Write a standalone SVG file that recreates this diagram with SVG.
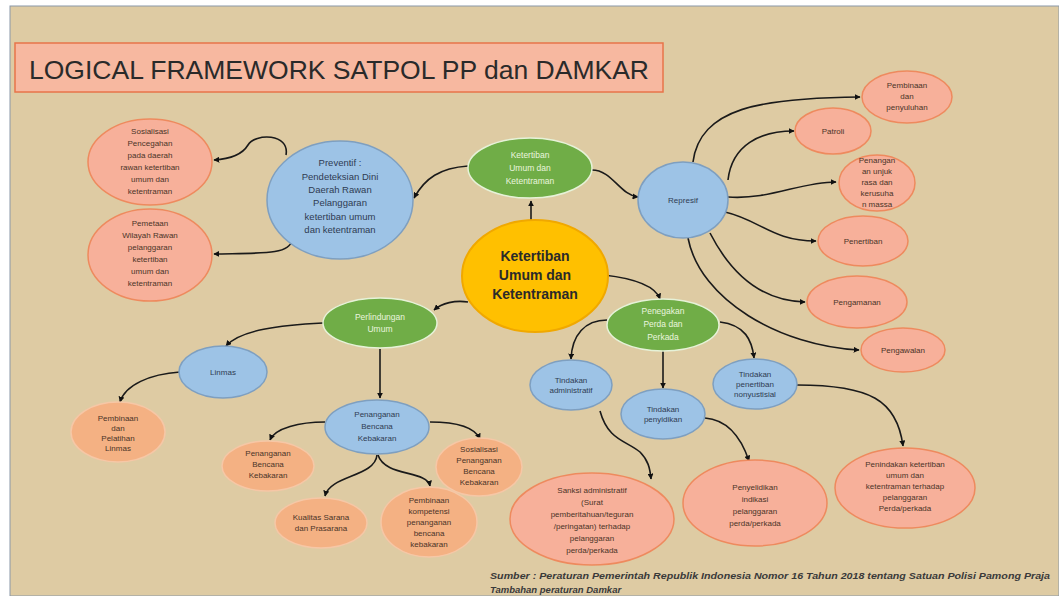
<svg xmlns="http://www.w3.org/2000/svg" width="1059" height="596" viewBox="0 0 1059 596">
<defs>
<marker id="ah" viewBox="0 0 10 10" refX="9" refY="5" markerWidth="6" markerHeight="6" orient="auto" markerUnits="userSpaceOnUse">
<path d="M0,0 L10,5 L0,10 z" fill="#111"/>
</marker>
</defs>
<style>
text{font-family:"Liberation Sans",Arial,sans-serif;text-anchor:middle}
.c path{fill:none;stroke:#1a1a1a;stroke-width:1.6;marker-end:url(#ah)}
.or{fill:#F7B09A;stroke:#EE8A5E;stroke-width:1.5}
.pe{fill:#F4B183;stroke:#F6C7A6;stroke-width:1.5}
.bl{fill:#9DC3E6;stroke:#7E9FC0;stroke-width:1.5}
.gr{fill:#70AD47;stroke:#E6F2D8;stroke-width:1.5}
.t{font-size:8px;fill:#4a3428}
.tb{font-size:8px;fill:#2f3b52}
.tg{font-size:8.5px;fill:#EAF5DF}
</style>
<rect x="0" y="0" width="1059" height="596" fill="#ffffff"/>
<rect x="10" y="6" width="1049" height="590" fill="#DECBA3" stroke="#8A98A8" stroke-width="1"/>
<g id="title">
<rect x="15" y="43" width="648" height="49" fill="#F7B8A0" stroke="#E8744A" stroke-width="1.5"/>
<text x="339" y="79" style="font-size:26px;fill:#2a2a2a" textLength="620" lengthAdjust="spacingAndGlyphs">LOGICAL FRAMEWORK SATPOL PP dan DAMKAR</text>
</g>
<g class="c" id="connectors">
<path d="M531,222 L531,201"/>
<path d="M468,166 C440,168 425,178 414,198"/>
<path d="M592,170 C612,170 620,195 638,197"/>
<path d="M286,155 C290,133 255,133 248,145 C242,155 230,159 214,160"/>
<path d="M292,240 C290,255 260,253 214,254"/>
<path d="M693,162 C700,108 760,98 860,97"/>
<path d="M728,180 C732,145 760,131 794,131"/>
<path d="M728,197 C770,200 800,182 836,182"/>
<path d="M725,212 C760,220 772,241 816,241"/>
<path d="M710,233 C730,272 760,301 805,302"/>
<path d="M688,238 C700,300 780,346 859,350"/>
<path d="M468,302 C455,300 442,303 434,310"/>
<path d="M604,275 C630,278 655,285 660,299"/>
<path d="M323,323 C280,325 240,330 226,346"/>
<path d="M380,349 L380,398"/>
<path d="M180,372 C150,374 125,385 120,402"/>
<path d="M325,422 C300,422 275,428 270,440"/>
<path d="M377,455 C375,477 330,475 325,496"/>
<path d="M378,455 C385,477 427,470 430,486"/>
<path d="M430,422 C460,422 475,428 480,439"/>
<path d="M607,320 C585,320 572,335 571,359"/>
<path d="M663,351 L663,388"/>
<path d="M720,322 C745,325 752,340 754,358"/>
<path d="M600,411 C608,440 625,440 640,452 C648,460 650,468 651,479"/>
<path d="M705,418 C730,420 742,440 749,461"/>
<path d="M797,385 C870,385 897,400 903,446"/>
</g>
<g id="n-central">
<ellipse cx="535" cy="276" rx="73" ry="56" fill="#FFC000" stroke="#F0A800" stroke-width="2"/>
<text x="535" y="261" style="font-size:14px;font-weight:bold;fill:#2a2a2a">Ketertiban</text>
<text x="535" y="280" style="font-size:14px;font-weight:bold;fill:#2a2a2a">Umum dan</text>
<text x="535" y="299" style="font-size:14px;font-weight:bold;fill:#2a2a2a">Ketentraman</text>
</g>
<g id="n-ketertiban">
<ellipse class="gr" cx="530" cy="168" rx="62" ry="30"/>
<text class="tg" x="530" y="158">Ketertiban</text>
<text class="tg" x="530" y="171">Umum dan</text>
<text class="tg" x="530" y="184">Ketentraman</text>
</g>
<g id="n-preventif">
<ellipse class="bl" cx="340" cy="200" rx="73" ry="59"/>
<text class="tb" style="font-size:9.5px" x="340" y="166">Preventif :</text>
<text class="tb" style="font-size:9.5px" x="340" y="180">Pendeteksian Dini</text>
<text class="tb" style="font-size:9.5px" x="340" y="193">Daerah Rawan</text>
<text class="tb" style="font-size:9.5px" x="340" y="206">Pelanggaran</text>
<text class="tb" style="font-size:9.5px" x="340" y="220">ketertiban umum</text>
<text class="tb" style="font-size:9.5px" x="340" y="233">dan ketentraman</text>
</g>
<g id="n-sosialisasi">
<ellipse class="or" cx="150" cy="162" rx="62" ry="43"/>
<text class="t" x="150" y="134">Sosialisasi</text>
<text class="t" x="150" y="146">Pencegahan</text>
<text class="t" x="150" y="158">pada daerah</text>
<text class="t" x="150" y="170">rawan ketertiban</text>
<text class="t" x="150" y="182">umum dan</text>
<text class="t" x="150" y="194">ketentraman</text>
</g>
<g id="n-pemetaan">
<ellipse class="or" cx="150" cy="255" rx="62" ry="46"/>
<text class="t" x="150" y="226">Pemetaan</text>
<text class="t" x="150" y="238">Wilayah Rawan</text>
<text class="t" x="150" y="250">pelanggaran</text>
<text class="t" x="150" y="262">ketertiban</text>
<text class="t" x="150" y="274">umum dan</text>
<text class="t" x="150" y="286">ketentraman</text>
</g>
<g id="n-represif">
<ellipse class="bl" cx="683" cy="200" rx="45" ry="38"/>
<text class="tb" x="683" y="203">Represif</text>
</g>
<g id="n-pembinaan-penyuluhan">
<ellipse class="or" cx="907" cy="97" rx="45" ry="26"/>
<text class="t" x="907" y="88">Pembinaan</text>
<text class="t" x="907" y="99">dan</text>
<text class="t" x="907" y="110">penyuluhan</text>
</g>
<g id="n-patroli">
<ellipse class="or" cx="833" cy="131" rx="38" ry="23"/>
<text class="t" x="833" y="134">Patroli</text>
</g>
<g id="n-unjukrasa">
<ellipse class="or" cx="877" cy="183" rx="38" ry="28"/>
<text class="t" x="877" y="163">Penangan</text>
<text class="t" x="877" y="174">an unjuk</text>
<text class="t" x="877" y="185">rasa dan</text>
<text class="t" x="877" y="196">kerusuha</text>
<text class="t" x="877" y="207">n massa</text>
</g>
<g id="n-penertiban">
<ellipse class="or" cx="863" cy="241" rx="45" ry="25"/>
<text class="t" x="863" y="244">Penertiban</text>
</g>
<g id="n-pengamanan">
<ellipse class="or" cx="857" cy="302" rx="50" ry="26"/>
<text class="t" x="857" y="305">Pengamanan</text>
</g>
<g id="n-pengawalan">
<ellipse class="or" cx="903" cy="350" rx="42" ry="22"/>
<text class="t" x="903" y="353">Pengawalan</text>
</g>
<g id="n-perlindungan">
<ellipse class="gr" cx="380" cy="323" rx="57" ry="25"/>
<text class="tg" x="380" y="320">Perlindungan</text>
<text class="tg" x="380" y="332">Umum</text>
</g>
<g id="n-linmas">
<ellipse class="bl" cx="223" cy="372" rx="44" ry="26"/>
<text class="tb" x="223" y="375">Linmas</text>
</g>
<g id="n-pelatihan">
<ellipse class="pe" cx="118" cy="432" rx="47" ry="30"/>
<text class="t" x="118" y="421">Pembinaan</text>
<text class="t" x="118" y="431">dan</text>
<text class="t" x="118" y="441">Pelatihan</text>
<text class="t" x="118" y="451">Linmas</text>
</g>
<g id="n-bencana">
<ellipse class="bl" cx="377" cy="427" rx="52" ry="27"/>
<text class="tb" x="377" y="417">Penanganan</text>
<text class="tb" x="377" y="429">Bencana</text>
<text class="tb" x="377" y="441">Kebakaran</text>
</g>
<g id="n-bencana2">
<ellipse class="pe" cx="268" cy="466" rx="46" ry="25"/>
<text class="t" x="268" y="456">Penanganan</text>
<text class="t" x="268" y="467">Bencana</text>
<text class="t" x="268" y="478">Kebakaran</text>
</g>
<g id="n-kualitas">
<ellipse class="pe" cx="321" cy="523" rx="46" ry="25"/>
<text class="t" x="321" y="520">Kualitas Sarana</text>
<text class="t" x="321" y="531">dan Prasarana</text>
</g>
<g id="n-kompetensi">
<ellipse class="pe" cx="429" cy="522" rx="48" ry="35"/>
<text class="t" x="429" y="503">Pembinaan</text>
<text class="t" x="429" y="514">kompetensi</text>
<text class="t" x="429" y="525">penanganan</text>
<text class="t" x="429" y="536">bencana</text>
<text class="t" x="429" y="547">kebakaran</text>
</g>
<g id="n-sosbencana">
<ellipse class="pe" cx="479" cy="467" rx="43" ry="29"/>
<text class="t" x="479" y="452">Sosialisasi</text>
<text class="t" x="479" y="463">Penanganan</text>
<text class="t" x="479" y="474">Bencana</text>
<text class="t" x="479" y="485">Kebakaran</text>
</g>
<g id="n-penegakan">
<ellipse class="gr" cx="663" cy="325" rx="56" ry="26"/>
<text class="tg" x="663" y="314">Penegakan</text>
<text class="tg" x="663" y="327">Perda dan</text>
<text class="tg" x="663" y="340">Perkada</text>
</g>
<g id="n-administratif">
<ellipse class="bl" cx="571" cy="385" rx="41" ry="25"/>
<text class="tb" x="571" y="383">Tindakan</text>
<text class="tb" x="571" y="393">administratif</text>
</g>
<g id="n-penyidikan">
<ellipse class="bl" cx="663" cy="414" rx="42" ry="25"/>
<text class="tb" x="663" y="412">Tindakan</text>
<text class="tb" x="663" y="422">penyidikan</text>
</g>
<g id="n-nonyustisial">
<ellipse class="bl" cx="755" cy="384" rx="42" ry="25"/>
<text class="tb" x="755" y="377">Tindakan</text>
<text class="tb" x="755" y="387">penertiban</text>
<text class="tb" x="755" y="397">nonyustisial</text>
</g>
<g id="n-sanksi">
<ellipse class="or" cx="592" cy="519" rx="82" ry="46"/>
<text class="t" x="592" y="493">Sanksi administratif</text>
<text class="t" x="592" y="505">(Surat</text>
<text class="t" x="592" y="517">pemberitahuan/teguran</text>
<text class="t" x="592" y="529">/peringatan) terhadap</text>
<text class="t" x="592" y="541">pelanggaran</text>
<text class="t" x="592" y="553">perda/perkada</text>
</g>
<g id="n-penyelidikan">
<ellipse class="or" cx="755" cy="503" rx="72" ry="43"/>
<text class="t" x="755" y="490">Penyelidikan</text>
<text class="t" x="755" y="502">indikasi</text>
<text class="t" x="755" y="514">pelanggaran</text>
<text class="t" x="755" y="526">perda/perkada</text>
</g>
<g id="n-penindakan">
<ellipse class="or" cx="905" cy="488" rx="70" ry="40"/>
<text class="t" x="905" y="467">Penindakan ketertiban</text>
<text class="t" x="905" y="478">umum dan</text>
<text class="t" x="905" y="489">ketentraman terhadap</text>
<text class="t" x="905" y="500">pelanggaran</text>
<text class="t" x="905" y="511">Perda/perkada</text>
</g>
<g id="source">
<text x="490" y="579" style="text-anchor:start;font-size:9.5px;font-style:italic;font-weight:bold;fill:#3a3a3a" textLength="560" lengthAdjust="spacingAndGlyphs">Sumber : Peraturan Pemerintah Republik Indonesia Nomor 16 Tahun 2018 tentang Satuan Polisi Pamong Praja</text>
<text x="490" y="593" style="text-anchor:start;font-size:9.5px;font-style:italic;font-weight:bold;fill:#3a3a3a">Tambahan peraturan Damkar</text>
</g>
</svg>
